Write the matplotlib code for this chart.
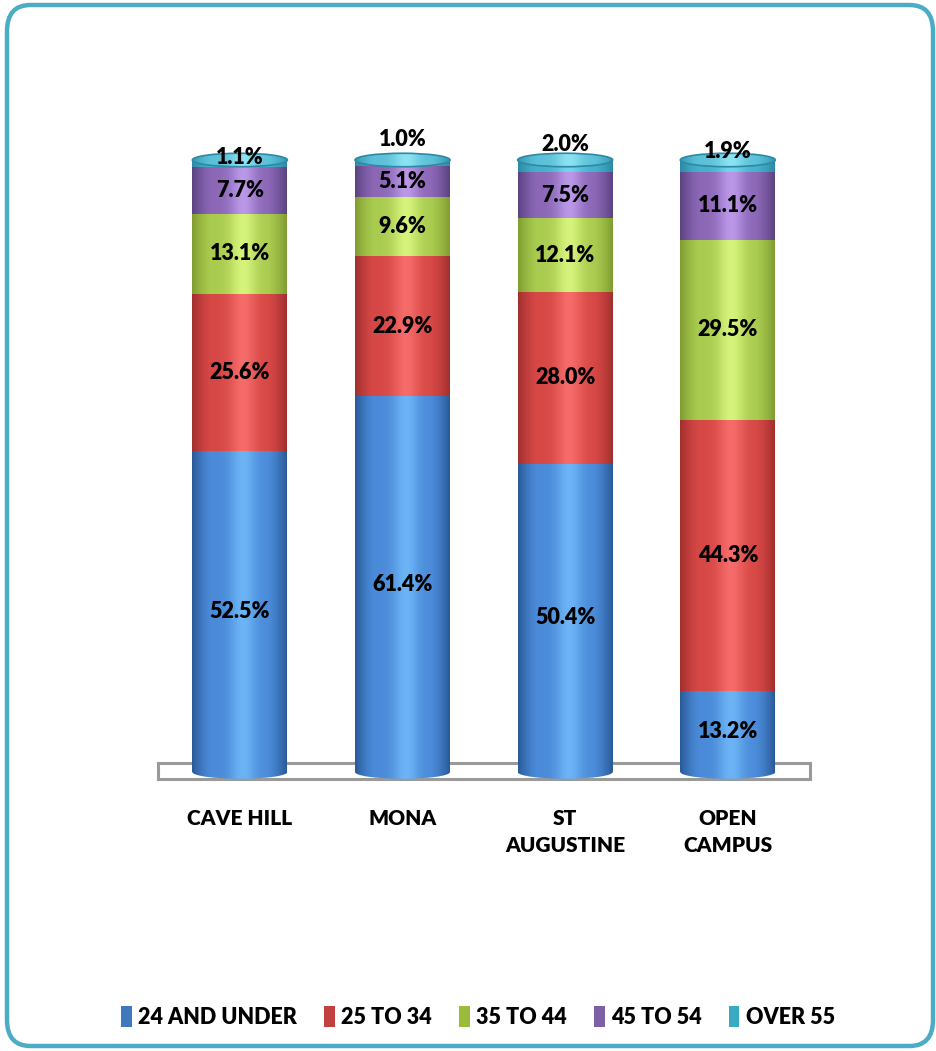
import numpy as np
import matplotlib
matplotlib.use("Agg")
import matplotlib.pyplot as plt
from matplotlib.patches import Ellipse, Rectangle, FancyBboxPatch, Patch
import matplotlib.colors as mcolors

plt.rcParams['font.family'] = ['Lato', 'DejaVu Sans']

# Data
campuses = ['CAVE HILL', 'MONA', 'ST\nAUGUSTINE', 'OPEN\nCAMPUS']
groups = ['24 AND UNDER', '25 TO 34', '35 TO 44', '45 TO 54', 'OVER 55']
under_24 = [52.5, 61.4, 50.4, 13.2]
age_25_34 = [25.6, 22.9, 28.0, 44.3]
age_35_44 = [13.1, 9.6, 12.1, 29.5]
age_45_54 = [7.7, 5.1, 7.5, 11.1]
over_55 = [1.1, 1.0, 2.0, 1.9]
series = [under_24, age_25_34, age_35_44, age_45_54, over_55]

# (edge, mid, highlight) per series
shades = [('#2a5a98', '#4a8ad8', '#6cb4f6'),
          ('#a02f2e', '#d64846', '#f66c6a'),
          ('#809c30', '#a9cb4f', '#d6f47c'),
          ('#5a4280', '#8b67b6', '#bb97e8'),
          ('#2d8aa4', '#45b0cc', '#74d4ec')]
legend_cols = ['#3f78bd', '#c0413e', '#9bbb3a', '#7d5fa6', '#3aa9c4']

# small nudges (points) for the top labels, as in the original
top_nudge = [-7, 6, 2, -3]

fig = plt.figure(figsize=(9.37, 10.51), dpi=100)
ax = fig.add_axes([0.160, 0.2483, 0.715, 0.628])
ax.set_xlim(-0.553, 3.566)
ax.set_ylim(-2.94, 104.9)

x = np.arange(len(campuses))
width = 0.584

t = np.linspace(0, 1, 200)
hi_prof = np.exp(-((t - 0.54) / 0.14) ** 2)
edge_prof = np.clip(1 - np.minimum(t, 1 - t) / 0.2, 0, 1) ** 1.4


def grad(edge, mid, hi):
    e = np.array(mcolors.to_rgb(edge))
    m = np.array(mcolors.to_rgb(mid))
    h = np.array(mcolors.to_rgb(hi))
    img = m[None, :] + (h - m)[None, :] * hi_prof[:, None] + (e - m)[None, :] * edge_prof[:, None]
    return np.clip(img, 0, 1)[None, :, :]


ax.add_patch(Rectangle((-0.504, -1.14), 4.008, 2.6, facecolor='white',
                       edgecolor='#9a9a9a', lw=2.2, zorder=1))

ell_h = 2.2
for i in range(len(campuses)):
    x0 = x[i] - width / 2
    # rounded bottom
    e = Ellipse((x[i], 0), width, ell_h, facecolor='none', edgecolor='none')
    ax.add_patch(e)
    im = ax.imshow(grad(*shades[0]), extent=(x0, x0 + width, -ell_h, ell_h),
                   aspect='auto', zorder=2)
    im.set_clip_path(e)
    bottom = 0
    for k, s in enumerate(series):
        v = s[i]
        ax.imshow(grad(*shades[k]), extent=(x0, x0 + width, bottom, bottom + v),
                  aspect='auto', zorder=3)
        if k < 4:
            ax.text(x[i], bottom + v / 2, f'{v:.1f}%', ha='center', va='center',
                    fontsize=15.5, fontweight='heavy', zorder=6)
        bottom += v
    # top cap
    cap = Ellipse((x[i], 100), width, ell_h, facecolor='none', edgecolor='#2b8aa4',
                  lw=1.2, zorder=5)
    ax.add_patch(cap)
    im = ax.imshow(grad('#3596b0', '#5cc0d8', '#8be2f2'),
                   extent=(x0, x0 + width, 100 - ell_h, 100 + ell_h),
                   aspect='auto', zorder=4)
    im.set_clip_path(cap)
    ax.annotate(f'{over_55[i]:.1f}%', (x[i], 100), xytext=(0, 9 + top_nudge[i]),
                textcoords='offset points', ha='center', va='center',
                fontsize=15.5, fontweight='heavy', zorder=6)

ax.set_xticks(x)
ax.set_xticklabels(campuses, fontsize=15, fontweight='heavy', linespacing=1.45)
ax.tick_params(axis='x', length=0, pad=14)
ax.set_yticks([])
for sp in ax.spines.values():
    sp.set_visible(False)
ax.patch.set_alpha(0)

handles = [Patch(facecolor=c, edgecolor='none') for c in legend_cols]
fig.legend(handles, groups, loc='center', bbox_to_anchor=(478 / 937, 1 - 1017 / 1051),
           ncol=5, frameon=False, prop={'size': 15.5, 'weight': 'heavy'},
           handlelength=0.5, handleheight=1.1, handletextpad=0.3, columnspacing=1.25)

fig.patches.append(FancyBboxPatch((7 / 937, 5 / 1051), 926 / 937, 1041 / 1051,
                                  boxstyle='round,pad=0,rounding_size=0.025',
                                  transform=fig.transFigure, facecolor='none',
                                  edgecolor='#4bacc6', lw=3.2, zorder=10))

fig.savefig('out.png', dpi=100)
